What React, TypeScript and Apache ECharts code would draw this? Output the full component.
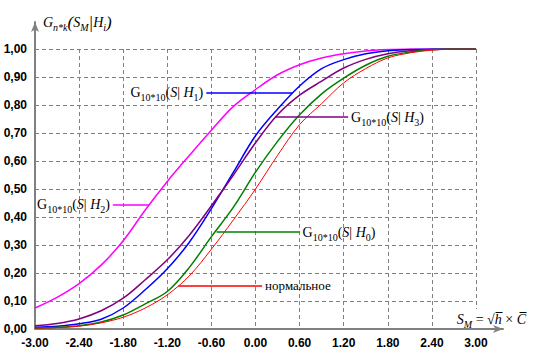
import React, { useEffect, useRef } from 'react';
import * as echarts from 'echarts';

const xValues = [-3, -2.7, -2.4, -2.1, -1.8, -1.5, -1.2, -0.9, -0.6, -0.3, 0, 0.3, 0.6, 0.9, 1.2, 1.5, 1.8, 2.1, 2.4, 2.7, 3];

const normalCdf = [0.003, 0.005, 0.01, 0.022, 0.042, 0.075, 0.122, 0.19, 0.285, 0.39, 0.5, 0.62, 0.73, 0.805, 0.879, 0.93, 0.968, 0.986, 0.996, 1, 1];
const gH0 = [0.003, 0.006, 0.012, 0.025, 0.05, 0.09, 0.134, 0.22, 0.33, 0.435, 0.56, 0.67, 0.765, 0.84, 0.896, 0.942, 0.974, 0.989, 0.998, 1, 1];
const gH1 = [0.006, 0.01, 0.019, 0.035, 0.075, 0.14, 0.215, 0.31, 0.43, 0.56, 0.69, 0.785, 0.868, 0.93, 0.962, 0.983, 0.994, 0.998, 1, 1, 1];
const gH2 = [0.075, 0.113, 0.162, 0.228, 0.315, 0.425, 0.527, 0.62, 0.71, 0.795, 0.855, 0.908, 0.944, 0.968, 0.983, 0.993, 0.998, 1, 1, 1, 1];
const gH3 = [0.012, 0.02, 0.036, 0.065, 0.11, 0.176, 0.247, 0.335, 0.44, 0.55, 0.665, 0.765, 0.835, 0.885, 0.932, 0.963, 0.983, 0.994, 0.998, 1, 1];

// leader lines for annotations: [y, xStart, xEnd]
const leaderH1 = [0.843, -0.67, 0.5];
const leaderH2 = [0.443, -1.94, -1.45];
const leaderH3 = [0.757, 0.27, 1.26];
const leaderH0 = [0.346, -0.53, 0.6];
const leaderNormal = [0.156, -1.05, 0.09];

const labelH1 = '{n|G}{s|10*10}{n|(}{i|S}{n|| }{i|H}{s|1}{n|)}';
const labelH2 = '{n|G}{s|10*10}{n|(}{i|S}{n|| }{i|H}{s|2}{n|)}';
const labelH3 = '{n|G}{s|10*10}{n|(}{i|S}{n|| }{i|H}{s|3}{n|)}';
const labelH0 = '{n|G}{s|10*10}{n|(}{i|S}{n|| }{i|H}{s|0}{n|)}';
const labelNormal = '{r|нормальное}';

const yTitle = '{i|G}{si|n*k}{p|(}{i|S}{si|M}{p||}{i|H}{si|i}{p|)}';
const xTitle = '{i|S}{si|M}{n| = √}{i|h\u0305}{n| × }{i|C\u0305}';

export default function App() {
  const ref = useRef<HTMLDivElement>(null);
  useEffect(() => {
    const chart = echarts.init(ref.current!, null, { renderer: 'svg' });
    const serif = '"Liberation Serif", "Times New Roman", serif';
    const sans = '"Liberation Sans", Arial, sans-serif';
    const rich: any = {
      n: { fontFamily: serif, fontSize: 14, lineHeight: 16, color: '#000' },
      i: { fontFamily: serif, fontSize: 14, lineHeight: 16, fontStyle: 'italic', color: '#000' },
      p: { fontFamily: serif, fontSize: 17, lineHeight: 18, fontStyle: 'italic', color: '#000' },
      s: { fontFamily: serif, fontSize: 10, lineHeight: 10, padding: [10, 0, 0, 0], color: '#000' },
      si: { fontFamily: serif, fontSize: 10, lineHeight: 10, padding: [10, 0, 0, 0], fontStyle: 'italic', color: '#000' },
      r: { fontFamily: serif, fontSize: 13, lineHeight: 16, color: '#000' },
    };
    const pair = (ys: number[]) => xValues.map((x, i) => [x, ys[i]]);
    const mk = (color: string, leader: number[], pos: string, text: string) => ({
      silent: true,
      symbol: ['none', 'none'],
      lineStyle: { color, width: 1.5, type: 'solid' },
      emphasis: { disabled: true },
      label: { show: true, position: pos, distance: 3, formatter: text, rich },
      data: [[{ coord: [leader[1], leader[0]] }, { coord: [leader[2], leader[0]] }]],
    });
    const line = (name: string, color: string, ys: number[], width: number, markLine: any) => ({
      name,
      type: 'line',
      xAxisIndex: 0,
      yAxisIndex: 0,
      data: pair(ys),
      showSymbol: false,
      smooth: 0.35,
      lineStyle: { color, width },
      itemStyle: { color },
      markLine,
    });
    const grid = { color: '#808080', type: [4, 3], width: 1 };
    chart.setOption({
      animation: false,
      backgroundColor: '#fff',
      grid: [
        { left: 35, right: 64, top: 49, bottom: 31 },
        { left: 35, right: 37, top: 22, bottom: 31 },
      ],
      xAxis: [
        {
          gridIndex: 0, type: 'value', min: -3, max: 3, interval: 0.6,
          axisLine: { show: false }, axisTick: { show: false },
          axisLabel: { margin: 8, fontFamily: sans, fontWeight: 'bold', fontSize: 12, color: '#000',
            formatter: (v: number) => (Math.abs(v) < 1e-9 ? 0 : v).toFixed(2) },
          splitLine: { show: true, lineStyle: grid },
        },
        {
          gridIndex: 1, type: 'value', min: 0, max: 1,
          axisLine: { show: true, symbol: ['none', 'arrow'], symbolSize: [6, 10], lineStyle: { color: '#808080', width: 2 } },
          axisTick: { show: false }, axisLabel: { show: false }, splitLine: { show: false },
          name: xTitle, nameLocation: 'end', nameGap: 25,
          nameTextStyle: { align: 'right', verticalAlign: 'bottom', padding: [2, 2, 2, 2], backgroundColor: '#fff', rich },
        },
      ],
      yAxis: [
        {
          gridIndex: 0, type: 'value', min: 0, max: 1, interval: 0.1,
          axisLine: { show: false }, axisTick: { show: false },
          axisLabel: { margin: 8, fontFamily: sans, fontWeight: 'bold', fontSize: 12, color: '#000',
            formatter: (v: number) => v.toFixed(2).replace('.', ',') },
          splitLine: { show: true, lineStyle: grid },
        },
        {
          gridIndex: 1, type: 'value', min: 0, max: 1,
          axisLine: { show: true, symbol: ['none', 'arrow'], symbolSize: [6, 10], lineStyle: { color: '#808080', width: 2 } },
          axisTick: { show: false }, axisLabel: { show: false }, splitLine: { show: false },
          name: yTitle, nameLocation: 'end', nameGap: 0,
          nameTextStyle: { align: 'left', verticalAlign: 'middle', padding: [0, 0, 0, 8], rich },
        },
      ],
      series: [
        line('H2', '#ff00ff', gH2, 1.5, mk('#ff00ff', leaderH2, 'start', labelH2)),
        line('H1', '#0000ff', gH1, 1.5, mk('#0000ff', leaderH1, 'start', labelH1)),
        line('H3', '#800080', gH3, 1.5, mk('#800080', leaderH3, 'end', labelH3)),
        line('H0', '#008000', gH0, 1.5, mk('#008000', leaderH0, 'end', labelH0)),
        line('normal', '#ff0000', normalCdf, 1, mk('#ff0000', leaderNormal, 'end', labelNormal)),
      ],
    });
    return () => chart.dispose();
  }, []);
  return <div ref={ref} style={{ position: 'fixed', left: 0, top: 0, width: 540, height: 360, background: '#fff' }} />;
}
